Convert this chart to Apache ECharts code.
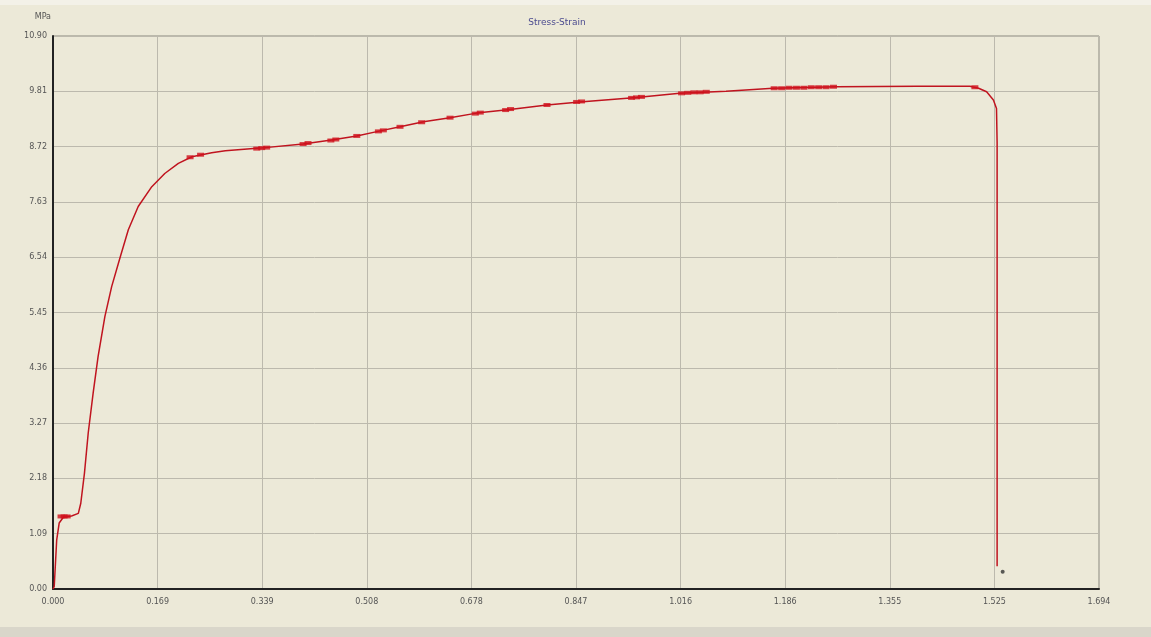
<!DOCTYPE html>
<html>
<head>
<meta charset="utf-8">
<script src="https://cdn.jsdelivr.net/npm/echarts@6/dist/echarts.min.js"></script>
<style>
  html, body { margin: 0; padding: 0; background: #ECE9D8; }
  #chart { width: 1151px; height: 637px; }
</style>
</head>
<body>
<div id="chart"></div>
<script>
// Stress-strain record of a tensile test (strain, stress in MPa)
const strain = [
  0.000, 0.002, 0.006, 0.010, 0.017, 0.030, 0.041, 0.045, 0.051, 0.057,
  0.065, 0.073, 0.084, 0.095, 0.109, 0.122, 0.138, 0.160, 0.181, 0.203,
  0.225, 0.257, 0.279, 0.335, 0.405, 0.451, 0.492, 0.530, 0.562, 0.600,
  0.643, 0.686, 0.740, 0.800, 0.853, 0.945, 1.015, 1.090, 1.166, 1.269,
  1.400, 1.485, 1.499, 1.512, 1.523, 1.528, 1.529, 1.529, 1.529
];
const stress = [
  0.00, 0.05, 0.97, 1.30, 1.42, 1.44, 1.49, 1.69, 2.29, 3.07,
  3.86, 4.58, 5.37, 5.96, 6.55, 7.08, 7.54, 7.93, 8.19, 8.39,
  8.52, 8.60, 8.64, 8.69, 8.77, 8.85, 8.93, 9.03, 9.11, 9.21,
  9.29, 9.38, 9.45, 9.54, 9.60, 9.69, 9.77, 9.81, 9.87, 9.90,
  9.91, 9.91, 9.87, 9.80, 9.64, 9.47, 8.80, 4.00, 0.45
];

// Sampled readings marked along the curve
const markStrain = [
  0.013, 0.018, 0.023, 0.222, 0.239, 0.330, 0.338, 0.346, 0.405, 0.413,
  0.450, 0.458, 0.492, 0.527, 0.535, 0.562, 0.597, 0.643, 0.684, 0.692,
  0.733, 0.741, 0.800, 0.848, 0.856, 0.937, 0.945, 0.953, 1.018, 1.028,
  1.038, 1.048, 1.058, 1.168, 1.180, 1.192, 1.204, 1.216, 1.228, 1.240,
  1.252, 1.264, 1.493
];
const markStress = [
  1.43, 1.43, 1.43, 8.51, 8.56, 8.68, 8.69, 8.70, 8.77, 8.79,
  8.84, 8.86, 8.93, 9.02, 9.04, 9.11, 9.20, 9.29, 9.37, 9.39,
  9.44, 9.46, 9.54, 9.60, 9.61, 9.68, 9.69, 9.70, 9.77, 9.78,
  9.79, 9.79, 9.80, 9.87, 9.87, 9.88, 9.88, 9.88, 9.89, 9.89,
  9.89, 9.90, 9.89
];

// Last reading after fracture
const breakPoint = [1.538, 0.34];

const xTicks = { min: 0, max: 1.694, step: 0.1694 };
const yTicks = { min: 0, max: 10.90, step: 1.09 };

const curve = strain.map((s, i) => [s, stress[i]]);
const marks = markStrain.map((s, i) => [s, markStress[i]]);

const chart = echarts.init(document.getElementById('chart'), null, { renderer: 'canvas' });
chart.setOption({
  backgroundColor: '#ECE9D8',
  animation: false,
  title: {
    text: 'Stress-Strain',
    left: 552, top: 13, textAlign: 'center',
    textStyle: { fontSize: 9, fontWeight: 'normal', color: '#4b4b8f', fontFamily: 'DejaVu Sans' }
  },
  grid: {
    left: 53, right: 52, top: 36, bottom: 48,
    show: true, borderColor: '#8a887e', borderWidth: 1, backgroundColor: 'transparent'
  },
  xAxis: {
    type: 'value',
    min: xTicks.min, max: xTicks.max, interval: xTicks.step,
    axisLine: { show: true, onZero: false, lineStyle: { color: '#222', width: 2 } },
    axisTick: { show: false },
    splitLine: { show: true, lineStyle: { color: '#bcb9ad', width: 1 } },
    axisLabel: {
      fontSize: 8, color: '#555', margin: 9, fontFamily: 'DejaVu Sans',
      formatter: v => v.toFixed(3)
    }
  },
  yAxis: {
    type: 'value',
    name: 'MPa',
    nameLocation: 'end',
    nameGap: 15,
    nameTextStyle: { fontSize: 8, color: '#555', align: 'right', padding: [0, 2, 0, 0], fontFamily: 'DejaVu Sans' },
    min: yTicks.min, max: yTicks.max, interval: yTicks.step,
    axisLine: { show: true, onZero: false, lineStyle: { color: '#222', width: 2 } },
    axisTick: { show: false },
    splitLine: { show: true, lineStyle: { color: '#bcb9ad', width: 1 } },
    axisLabel: {
      fontSize: 8, color: '#555', margin: 6, fontFamily: 'DejaVu Sans',
      formatter: v => v.toFixed(2)
    }
  },
  series: [
    {
      type: 'line',
      data: curve,
      showSymbol: false,
      lineStyle: { color: '#c0141f', width: 1.5 },
      z: 3
    },
    {
      type: 'scatter',
      data: marks,
      symbol: 'rect',
      symbolSize: [7, 4],
      itemStyle: { color: '#d0101c' },
      z: 4
    },
    {
      type: 'scatter',
      data: [breakPoint],
      symbol: 'circle',
      symbolSize: 4,
      itemStyle: { color: '#333' },
      z: 4
    }
  ],
  graphic: [
    { type: 'rect', shape: { x: 0, y: 0, width: 1151, height: 5 }, style: { fill: '#f3f1e8' }, silent: true },
    { type: 'rect', shape: { x: 0, y: 627, width: 1151, height: 10 }, style: { fill: '#d9d6ca' }, silent: true }
  ]
});
</script>
</body>
</html>
